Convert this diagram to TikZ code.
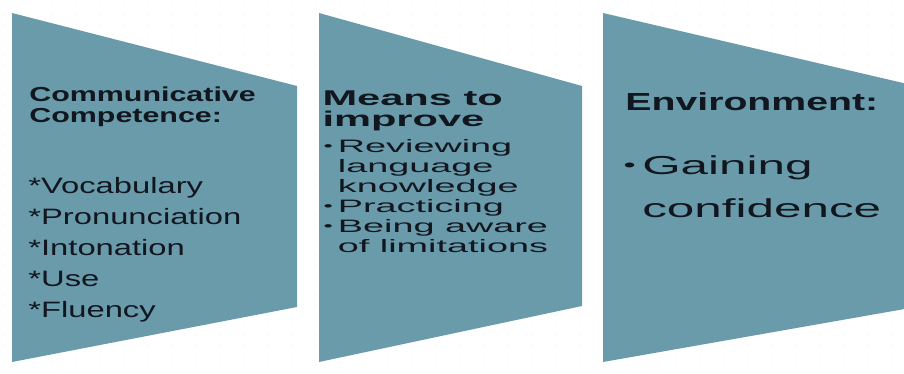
\documentclass[tikz,border=0pt]{standalone}
\usepackage{fontspec}
\setmainfont{Liberation Sans}
\definecolor{panelblue}{RGB}{106,155,171}
\definecolor{inkdark}{RGB}{18,22,30}
\tikzset{
  panel/.style={fill=panelblue},
  heading/.style={anchor=base west, inner sep=0pt, align=left, text=inkdark},
  item/.style={anchor=base west, inner sep=0pt, align=left, text=inkdark},
}
\newcommand{\bul}{\makebox[0.38em][l]{\raisebox{0.1em}{\scalebox{0.7}{\textbullet}}}}
\newcommand{\hang}{\hspace*{0.38em}}

\begin{document}
\begin{tikzpicture}[x=0.75pt, y=-0.75pt]
    \useasboundingbox (0,0) rectangle (904,374);
    \clip (0,0) rectangle (904,374);
    \fill[white] (0,0) rectangle (904,374);
    \foreach \i in {0,...,75}
      \foreach \j in {0,...,37}
        \fill[black!6] (\i*12+4, \j*10+5) circle (0.7);

    % the three panels
    \fill[panel] (12,13) -- (297,86) -- (297,307) -- (12,362) -- cycle;
    \fill[panel] (319,13) -- (582,86) -- (582,306) -- (319,362) -- cycle;
    \fill[panel] (603,13) -- (916,86) -- (916,307) -- (603,362) -- cycle;

    % competence (nodes sit on their last line)
    \node[heading, xscale=1.5, font=\fontsize{15.2}{15.75}\selectfont\bfseries]
      (compTitle) at (29,122.7) {Communicative\\Competence:};
    \node[item, xscale=1.47, font=\fontsize{16.7}{23.4}\selectfont]
      (compList) at (28,318) {*Vocabulary\\*Pronunciation\\*Intonation\\*Use\\*Fluency};

    % means to improve
    \node[heading, xscale=1.95, font=\fontsize{16}{16}\selectfont\bfseries]
      (meansTitle) at (322,126.5) {Means to\\improve};
    \node[item, xscale=2.1, font=\fontsize{13.5}{15}\selectfont]
      (meansList) at (323,252.5) {\bul Reviewing\\\hang language\\\hang knowledge\\\bul Practicing\\\bul Being aware\\\hang of limitations};

    % environment
    \node[heading, xscale=1.59, font=\fontsize{18.5}{20}\selectfont\bfseries]
      (envTitle) at (625,111) {Environment:};
    \node[item, xscale=1.9, font=\fontsize{19.5}{32.8}\selectfont]
      (envList) at (623,218) {\bul Gaining\\\hang confidence};
\end{tikzpicture}
\end{document}
